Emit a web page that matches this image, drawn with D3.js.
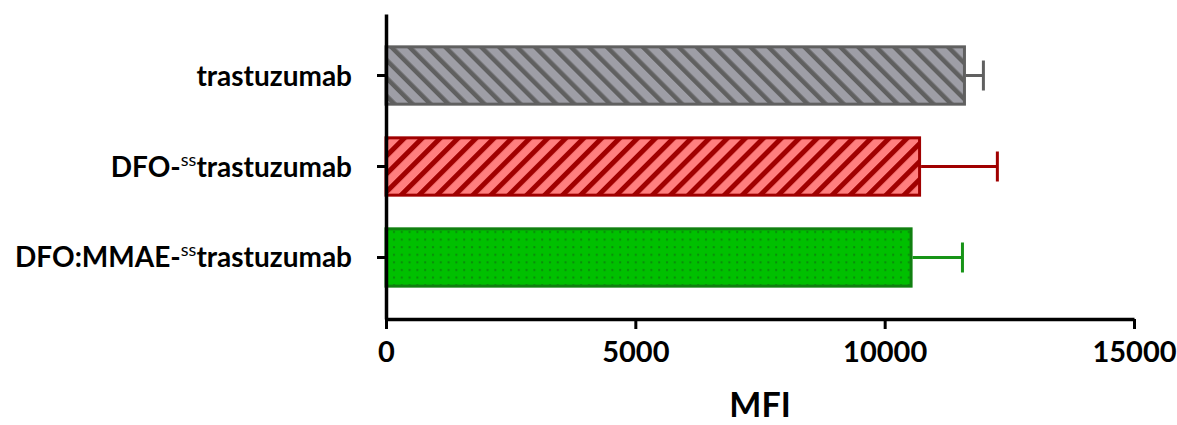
<!DOCTYPE html>
<html>
<head>
<meta charset="utf-8">
<script src="https://cdn.jsdelivr.net/npm/d3@7"></script>
<style>
	body { margin: 0; background: #fff; }
	text { font-family: Lato, "Open Sans", sans-serif; font-weight: bold; fill: #000; }
</style>
</head>
<body>
<div id="chart"></div>
<script>

//Data
var categories = ["trastuzumab", "DFO-", "DFO:MMAE-"];
var superscripts = ["", "ss", "ss"];
var suffixes = ["", "trastuzumab", "trastuzumab"];
var values = [11600, 10700, 10530];
var errors = [380, 1560, 1030];
var xTicks = [0, 5000, 10000, 15000];
var axisTitle = "MFI";

var fills = ["url(#stripe-gray)", "url(#stripe-red)", "url(#dots-green)"];
var strokes = ["#606060", "#a00000", "#108010"];
var errColors = ["#606060", "#a00000", "#179417"];

var width = 1177, height = 425;

var svg = d3.select("#chart").append("svg")
	.attr("width", width)
	.attr("height", height);

///////////////////////////////////////////////////////////////////////////
//////////////////////////////// Patterns /////////////////////////////////
///////////////////////////////////////////////////////////////////////////

var defs = svg.append("defs");

//Gray - backslash stripes
var pg = defs.append("pattern")
	.attr("id", "stripe-gray")
	.attr("patternUnits", "userSpaceOnUse")
	.attr("width", 12.7).attr("height", 12.7)
	.attr("patternTransform", "rotate(-45)");
pg.append("rect").attr("width", 12.7).attr("height", 12.7).attr("fill", "#9e9ea6");
pg.append("rect").attr("width", 4.5).attr("height", 12.7).attr("fill", "#606060");

//Red - forward slash stripes
var pr = defs.append("pattern")
	.attr("id", "stripe-red")
	.attr("patternUnits", "userSpaceOnUse")
	.attr("width", 12.7).attr("height", 12.7)
	.attr("patternTransform", "rotate(45)");
pr.append("rect").attr("width", 12.7).attr("height", 12.7).attr("fill", "#ff7f7f");
pr.append("rect").attr("width", 5).attr("height", 12.7).attr("fill", "#a00000");

//Green - dots
var pd = defs.append("pattern")
	.attr("id", "dots-green")
	.attr("patternUnits", "userSpaceOnUse")
	.attr("width", 7.8).attr("height", 7.6);
pd.append("rect").attr("width", 7.8).attr("height", 7.6).attr("fill", "#00c000");
pd.append("rect").attr("x", 3).attr("y", 3).attr("width", 2).attr("height", 2).attr("fill", "#0a8a0a");

///////////////////////////////////////////////////////////////////////////
///////////////////////////////// Scales //////////////////////////////////
///////////////////////////////////////////////////////////////////////////

var x = d3.scaleLinear().domain([0, 15000]).range([386, 1134]);
var y = d3.scaleBand().domain(d3.range(categories.length))
	.range([14, 319])
	.paddingInner(0.37)
	.paddingOuter(0.361);

///////////////////////////////////////////////////////////////////////////
////////////////////////////////// Bars ///////////////////////////////////
///////////////////////////////////////////////////////////////////////////

var idx = d3.range(values.length);

svg.selectAll(".bar")
	.data(idx)
	.enter().append("rect")
	.attr("class", "bar")
	.attr("x", x(0))
	.attr("y", function(i) { return y(i); })
	.attr("width", function(i) { return x(values[i]) - x(0); })
	.attr("height", y.bandwidth())
	.style("fill", function(i) { return fills[i]; })
	.style("stroke", function(i) { return strokes[i]; })
	.style("stroke-width", 3);

//Error bars
var err = svg.selectAll(".err")
	.data(idx)
	.enter().append("g")
	.attr("class", "err")
	.style("stroke", function(i) { return errColors[i]; })
	.style("stroke-width", 3);

err.append("line")
	.attr("x1", function(i) { return x(values[i]) + 1.5; })
	.attr("x2", function(i) { return x(values[i] + errors[i]); })
	.attr("y1", function(i) { return y(i) + y.bandwidth()/2; })
	.attr("y2", function(i) { return y(i) + y.bandwidth()/2; });

err.append("line")
	.attr("x1", function(i) { return x(values[i] + errors[i]); })
	.attr("x2", function(i) { return x(values[i] + errors[i]); })
	.attr("y1", function(i) { return y(i) + y.bandwidth()/2 - 15; })
	.attr("y2", function(i) { return y(i) + y.bandwidth()/2 + 15; });

///////////////////////////////////////////////////////////////////////////
////////////////////////////////// Axes ///////////////////////////////////
///////////////////////////////////////////////////////////////////////////

var xAxis = svg.append("g")
	.attr("transform", "translate(0,319)")
	.call(d3.axisBottom(x).tickValues(xTicks).tickSize(10).tickSizeOuter(0).tickFormat(d3.format("d")));
xAxis.select(".domain").attr("stroke", "#000").attr("stroke-width", 3.5);
xAxis.selectAll(".tick line").attr("stroke", "#000").attr("stroke-width", 3);
xAxis.selectAll(".tick text")
	.attr("y", 22)
	.style("font-size", "29px");

var yAxis = svg.append("g")
	.attr("transform", "translate(386,0)")
	.call(d3.axisLeft(y).tickSize(9).tickSizeOuter(0).tickFormat(""));
yAxis.select(".domain").attr("stroke", "#000").attr("stroke-width", 3.5);
yAxis.selectAll(".tick line").attr("stroke", "#000").attr("stroke-width", 3);

//Category labels with superscripts
var labels = svg.selectAll(".cat")
	.data(idx)
	.enter().append("text")
	.attr("class", "cat")
	.attr("x", 352)
	.attr("y", function(i) { return y(i) + y.bandwidth()/2 + 10; })
	.attr("text-anchor", "end")
	.style("font-size", "28px");
labels.append("tspan").text(function(i) { return categories[i]; });
labels.append("tspan")
	.attr("dy", "-11")
	.style("font-size", "18px")
	.style("font-weight", "normal")
	.text(function(i) { return superscripts[i]; });
labels.append("tspan")
	.attr("dy", function(i) { return superscripts[i] ? "11" : null; })
	.text(function(i) { return suffixes[i]; });

//Axis title
svg.append("text")
	.attr("x", (x(0) + x(15000))/2)
	.attr("y", 417)
	.attr("text-anchor", "middle")
	.style("font-size", "34px")
	.text(axisTitle);

</script>
</body>
</html>
